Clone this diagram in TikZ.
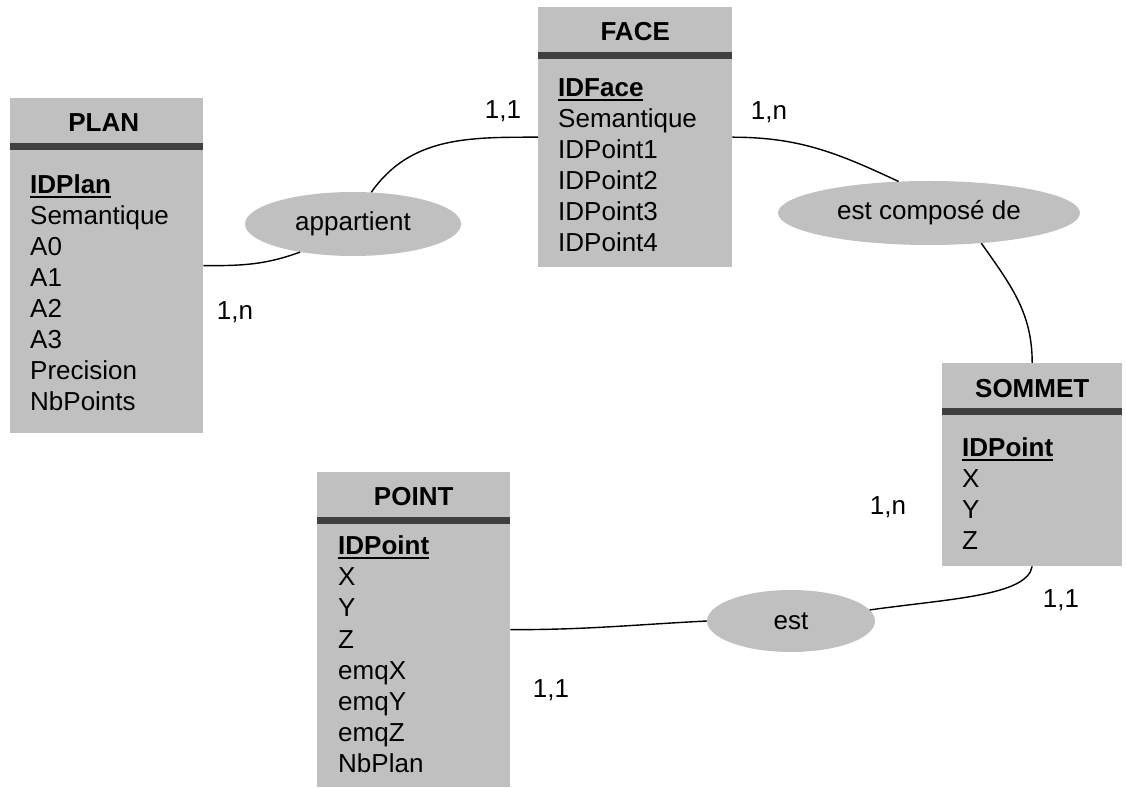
\documentclass[tikz,border=0pt]{standalone}
\usepackage{fontspec}
\setmainfont{Liberation Sans}
\usepackage{tikz}
\usetikzlibrary{shapes.geometric}
\definecolor{boxgray}{HTML}{C0C0C0}
\definecolor{bardark}{HTML}{404040}
\newcommand{\idkey}[1]{\setbox0\hbox{\bfseries #1}\rlap{\rule[-4.5pt]{\wd0}{2.2pt}}\box0}
\newcommand{\erfont}{\fontsize{26}{31}\selectfont}
\tikzset{
  entity/.style = {rectangle, fill=boxgray, inner sep=0pt, anchor=north west},
  etitle/.style = {anchor=base, inner sep=0pt, font=\erfont\bfseries},
  attr/.style   = {anchor=base west, inner sep=0pt},
  rel/.style    = {ellipse, fill=boxgray, inner sep=0pt},
  card/.style   = {anchor=base, inner sep=0pt},
  link/.style   = {line width=1.4pt, black},
}

\begin{document}
\begin{tikzpicture}[x=1pt, y=1pt, font=\erfont]
  \useasboundingbox (0,0) rectangle (1126,787);

  % Entities
  \node[entity, minimum width=193pt, minimum height=335pt] (plan) at (10,689) {};
  \node[entity, minimum width=194pt, minimum height=260pt] (face) at (538,780) {};
  \node[entity, minimum width=180pt, minimum height=203pt] (sommet) at (942,424) {};
  \node[entity, minimum width=193pt, minimum height=315pt] (point) at (317,315) {};

  \foreach \e in {plan, face, sommet, point}
    \fill[bardark] ([yshift=-45pt]\e.north west) rectangle ([yshift=-52pt]\e.north east);

  \node[etitle] (plan-title) at ([xshift=-3pt, yshift=-34pt]plan.north) {PLAN};
  \node[etitle] (face-title) at ([yshift=-34pt]face.north) {FACE};
  \node[etitle] (sommet-title) at ([yshift=-35pt]sommet.north) {SOMMET};
  \node[etitle] (point-title) at ([yshift=-34pt]point.north) {POINT};

  % Attributes
  \node[attr] (plan-key) at (30,593) {\idkey{IDPlan}};
  \foreach \a [count=\i] in {Semantique, A0, A1, A2, A3, Precision, NbPoints}
    \node[attr] (plan-\i) at (30,{593-31*\i}) {\a};

  \node[attr] (face-key) at (558,690) {\idkey{IDFace}};
  \foreach \a [count=\i] in {Semantique, IDPoint1, IDPoint2, IDPoint3, IDPoint4}
    \node[attr] (face-\i) at (558,{690-31*\i}) {\a};

  \node[attr] (sommet-key) at (962,330) {\idkey{IDPoint}};
  \foreach \a [count=\i] in {X, Y, Z}
    \node[attr] (sommet-\i) at (962,{330-31*\i}) {\a};

  \node[attr] (point-key) at (338,232) {\idkey{IDPoint}};
  \foreach \a [count=\i] in {X, Y, Z, emqX, emqY, emqZ, NbPlan}
    \node[attr] (point-\i) at (338,{232-31*\i}) {\a};

  % Relations
  \node[rel, minimum width=216pt, minimum height=64pt] (app) at (353,563) {appartient};
  \node[rel, minimum width=302pt, minimum height=64pt] (comp) at (929,574) {est composé de};
  \node[rel, minimum width=168pt, minimum height=62pt] (est) at (791,166) {est};

  % Links
  \draw[link] (plan.east) to[out=0, in=200] (app.208);
  \draw[link] (app.60) to[out=55, in=180] (face.west);
  \draw[link] (face.east) to[out=0, in=155] (comp.134);
  \draw[link] (comp.330) to[out=-55, in=90] (sommet.north);
  \draw[link] (sommet.south) .. controls +(-100:30) and +(8:80) .. (est.8);
  \draw[link] (est.west) to[out=183, in=0] (point.east);

  % Cardinalities
  \node[card] (c-face-app) at (503,668) {1,1};
  \node[card] (c-face-comp) at (769,667) {1,n};
  \node[card] (c-plan) at (235,467) {1,n};
  \node[card] (c-sommet-comp) at (888,272) {1,n};
  \node[card] (c-sommet-est) at (1061,179) {1,1};
  \node[card] (c-point) at (551,90) {1,1};

\end{tikzpicture}
\end{document}
